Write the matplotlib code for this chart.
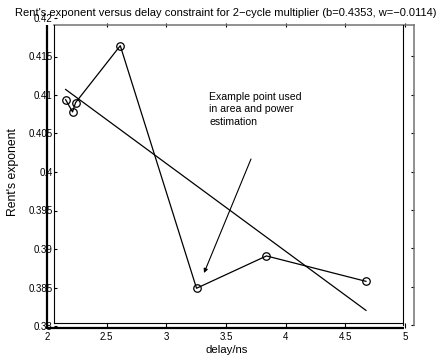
import matplotlib
matplotlib.use("Agg")
import matplotlib.pyplot as plt
from matplotlib.lines import Line2D

plt.rcParams['font.family'] = ['Liberation Sans', 'DejaVu Sans']

# Rent's exponent measured for each delay constraint (ns)
delay = [2.156, 2.214, 2.239, 2.614, 3.253, 3.839, 4.673]
rent = [0.4094, 0.4078, 0.4090, 0.4164, 0.3849, 0.3891, 0.3858]

# linear fit  rent = b + w * delay
b_fit = 0.4353
w_fit = -0.0114

x_ticks = [2, 2.5, 3, 3.5, 4, 4.5, 5]
x_tick_labels = ['2', '2.5', '3', '3.5', '4', '4.5', '5']
y_ticks = [0.38, 0.385, 0.39, 0.395, 0.40, 0.405, 0.41, 0.415, 0.42]
y_tick_labels = ['0.38', '0.385', '0.39', '0.395', '0.4', '0.405', '0.41', '0.415', '0.42']

title = ("Rent's exponent versus delay constraint for 2\u2212cycle multiplier "
         "(b=0.4353, w=\u22120.0114)")
note = "Example point used\nin area and power\nestimation"

W, H, DPI = 444, 357, 100
fig = plt.figure(figsize=(W / DPI, H / DPI), dpi=DPI)
fig.patch.set_facecolor('white')


def rect(l, t, r, b):
    return [l / W, 1 - b / H, (r - l) / W, (b - t) / H]


def pt(px):
    return px * 72.0 / DPI


# axes placement in pixels
AX_L, AX_T, AX_R, AX_B = 47, 18, 405, 326
X0, X1 = 2.0, 5.0
Y0, Y1 = 0.38, 0.42


def xd(px):
    return X0 + (px - AX_L) / (AX_R - AX_L) * (X1 - X0)


def yd(py):
    return Y0 + (AX_B - py) / (AX_B - AX_T) * (Y1 - Y0)


# grey outer box carrying the top and right tick marks
ax2 = fig.add_axes(rect(54, 25, 414, 325))
ax2.set_xlim(xd(54), xd(414))
ax2.set_ylim(yd(325), yd(25))
ax2.patch.set_visible(False)
for side in ('left', 'bottom'):
    ax2.spines[side].set_visible(False)
for side in ('top', 'right'):
    ax2.spines[side].set_color('0.45')
    ax2.spines[side].set_linewidth(1.1)
ax2.xaxis.tick_top()
ax2.yaxis.tick_right()
ax2.set_xticks(x_ticks[1:])
ax2.set_yticks(y_ticks[:-1])
ax2.tick_params(axis='x', direction='inout', length=pt(4), width=0.8,
                labeltop=False, labelbottom=False)
ax2.tick_params(axis='y', direction='in', length=pt(3), width=0.8,
                labelright=False, labelleft=False)

# main data axes
ax = fig.add_axes(rect(AX_L, AX_T, AX_R, AX_B))
ax.set_facecolor('none')
ax.set_xlim(X0, X1)
ax.set_ylim(Y0, Y1)

ax.spines['top'].set_visible(False)
ax.spines['left'].set_position(('outward', -pt(7)))
ax.spines['left'].set_bounds(yd(322.5), yd(25))
ax.spines['bottom'].set_position(('outward', -pt(3.5)))
ax.spines['bottom'].set_bounds(xd(54), xd(403))
ax.spines['right'].set_position(('outward', -pt(2)))
ax.spines['right'].set_bounds(yd(325), yd(25))
for side in ('left', 'bottom', 'right'):
    ax.spines[side].set_linewidth(0.8)

ax.yaxis.set_ticks_position('left')
ax.xaxis.set_ticks_position('bottom')
ax.set_xticks(x_ticks)
ax.set_xticklabels(x_tick_labels)
ax.set_yticks(y_ticks)
ax.set_yticklabels(y_tick_labels)
ax.tick_params(axis='y', direction='in', length=pt(3), width=0.8,
               pad=pt(1.5), labelsize=7)
ax.tick_params(axis='x', direction='out', length=pt(5), width=0.8,
               pad=pt(4), labelsize=7)

ax.set_xlabel('delay/ns', fontsize=8.2)
ax.xaxis.set_label_coords((227 - AX_L) / (AX_R - AX_L),
                          (AX_B - 350) / (AX_B - AX_T))
ax.xaxis.label.set_va('center')
ax.set_ylabel("Rent's exponent", fontsize=8.8)
ax.yaxis.set_label_coords((13 - AX_L) / (AX_R - AX_L),
                          (AX_B - 172) / (AX_B - AX_T))
ax.yaxis.label.set_va('center')

# heavy L-shaped frame on the left and bottom
fig.add_artist(Line2D([47 / W, 47 / W], [1 - 25 / H, 1 - 328.5 / H],
                      transform=fig.transFigure, color='black', lw=1.6,
                      solid_capstyle='butt'))
fig.add_artist(Line2D([46.5 / W, 404 / W], [1 - 328 / H, 1 - 328 / H],
                      transform=fig.transFigure, color='black', lw=1.6,
                      solid_capstyle='butt'))

# measured points and fitted line
ax.plot(delay, rent, color='black', lw=0.9, marker='o', ms=5.4,
        mfc='none', mec='black', mew=0.9, clip_on=False)
fit_x = [min(delay), max(delay)]
fit_y = [b_fit + w_fit * v for v in fit_x]
ax.plot(fit_x, fit_y, color='black', lw=0.9)

# note with arrow towards the chosen design point
ax.text(xd(209), yd(92), note, fontsize=7.6, va='top', ha='left',
        linespacing=1.3)
ax.annotate('', xy=(xd(204), yd(273)), xytext=(xd(251), yd(159)),
            arrowprops=dict(arrowstyle='-|>', color='black', lw=0.8,
                            mutation_scale=6, shrinkA=0, shrinkB=0))

fig.text(226 / W, 1 - 13.5 / H, title, ha='center', va='center', fontsize=8.0)

fig.savefig('out.png', dpi=DPI, facecolor='white')
